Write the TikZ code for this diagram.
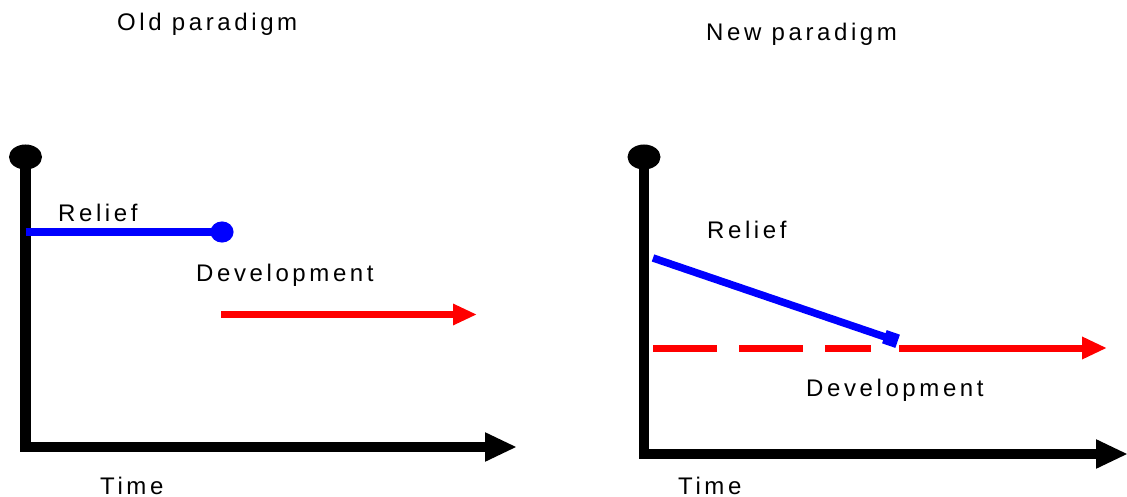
\documentclass[tikz,border=0pt]{standalone}
\usepackage{fontspec}
\usetikzlibrary{arrows.meta,shapes.geometric}
\newfontfamily\lblfont[LetterSpace=15]{Liberation Sans}
\begin{document}
\begin{tikzpicture}[x=1pt,y=-1pt,
  axis/.style={line width=10.5pt,line join=miter,-{Triangle[length=32pt,width=27pt]}},
  ball/.style={ellipse,fill=black,minimum width=33pt,minimum height=25pt,inner sep=0pt},
  relief/.style={blue,line width=7.5pt},
  endmark/.style={rectangle,fill=blue,minimum size=14pt,inner sep=0pt,rotate=-19},
  devel/.style={red,line width=7pt},
  lbl/.style={anchor=base west,inner sep=0pt,text=black,font=\lblfont\fontsize{24}{28}\selectfont}]
\useasboundingbox (0,0) rectangle (1127,497);

% ---- left panel: old paradigm ----
\node[ball] (ballL) at (25.5,157) {};
\coordinate (xL) at (517,447);
\draw[axis] (ballL.center) |- (xL);

\coordinate (rL0) at (25.5,232);
\coordinate (rL1) at (233.5,232);
\draw[relief,-{Circle[length=23pt,width=21pt]}] (rL0) -- (rL1);

\coordinate (dL0) at (221,314.5);
\coordinate (dL1) at (477,314.5);
\draw[devel,-{Triangle[length=24pt,width=20pt]}] (dL0) -- (dL1);

\node[lbl] (oldt) at (117,31) {Old paradigm};
\node[lbl] (relL) at (58,222) {Relief};
\node[lbl] (devL) at (196,281) {Development};
\node[lbl] (timL) at (100,494) {Time};

% ---- right panel: new paradigm ----
\node[ball] (ballR) at (644,157) {};
\coordinate (xR) at (1128,454);
\draw[axis] (ballR.center) |- (xR);

\coordinate (dR0) at (653,348);
\coordinate (dR1) at (871,348);
\coordinate (dR2) at (899,348);
\coordinate (dR3) at (1107,348);
\draw[devel,dash pattern=on 64pt off 22pt on 64pt off 22pt on 46pt off 40pt] (dR0) -- (dR1);
\draw[devel,-{Triangle[length=25pt,width=21pt]}] (dR2) -- (dR3);

\coordinate (rR0) at (653,258);
\node[endmark] (rR1) at (891,339) {};
\draw[relief] (rR0) -- (rR1.center);

\node[lbl] (newt) at (706,41) {New paradigm};
\node[lbl] (relR) at (707,239) {Relief};
\node[lbl] (devR) at (806,396) {Development};
\node[lbl] (timR) at (678,494) {Time};
\end{tikzpicture}
\end{document}
